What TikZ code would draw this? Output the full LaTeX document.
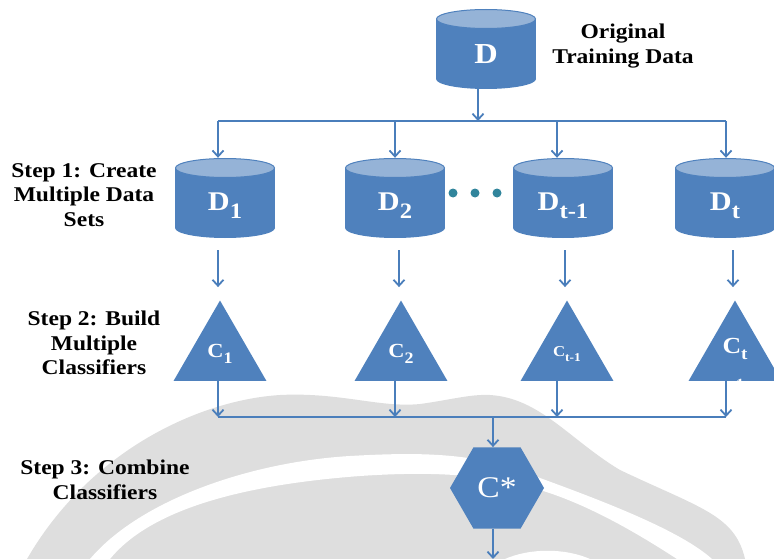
\documentclass[tikz,border=0pt]{standalone}
\usepackage{fontspec}
\setmainfont{Liberation Serif}[FakeStretch=1.12]
\usetikzlibrary{arrows.meta,shapes.geometric}

\definecolor{boxblue}{HTML}{4F81BD}
\definecolor{topblue}{HTML}{95B3D7}
\definecolor{lineblue}{HTML}{4A7EBB}
\definecolor{dotteal}{HTML}{31859C}
\definecolor{markgray}{HTML}{DEDEDE}

\newcommand{\lowsub}[2][22]{{\fontsize{#1}{#1}\selectfont\raisebox{-0.35em}{#2}}}

\tikzset{
  datastore/.style={minimum width=100pt, minimum height=80pt, inner sep=0pt, fill=white,
    text=white, font=\fontsize{27}{27}\selectfont\bfseries, text height=26pt, text depth=0pt,
    path picture={
      \fill[boxblue] ([yshift=-10pt]path picture bounding box.north west)
        rectangle ([yshift=10pt]path picture bounding box.south east);
      \fill[boxblue] ([yshift=10pt]path picture bounding box.south) ellipse [x radius=50pt, y radius=10pt];
      \filldraw[fill=topblue, draw=boxblue, line width=1pt]
        ([yshift=-10pt]path picture bounding box.north) ellipse [x radius=49.5pt, y radius=9.5pt];
    }},
  clsf/.style={regular polygon, regular polygon sides=3, minimum size=107pt, inner sep=0pt,
    fill=boxblue, text=white, font=\fontsize{20}{20}\selectfont\bfseries},
  combiner/.style={regular polygon, regular polygon sides=6, minimum size=94pt, inner sep=0pt,
    fill=boxblue, text=white, font=\fontsize{30}{30}\selectfont},
  steplabel/.style={align=center, inner sep=0pt, font=\fontsize{21}{24.5}\selectfont\bfseries},
  bus/.style={draw=lineblue, line width=1.8pt},
  arr/.style={bus, -{Straight Barb[length=6pt, width=11pt]}}
}

\begin{document}
\begin{tikzpicture}[x=1pt, y=-1pt]
  \useasboundingbox (0,0) rectangle (774,559);
  % watermark
  \fill[markgray] (27,559) .. controls (90,450) and (200,400) .. (280,395)
    .. controls (340,392) and (380,408) .. (420,404)
    .. controls (450,400) and (470,394) .. (490,395)
    .. controls (540,398) and (570,440) .. (620,470)
    .. controls (700,508) and (735,515) .. (745,559) -- cycle;
  \fill[white] (90,559) .. controls (140,500) and (250,462) .. (350,456)
    .. controls (420,452) and (480,452) .. (540,478)
    .. controls (600,500) and (680,530) .. (712,559)
    -- (677,559) .. controls (640,535) and (590,505) .. (540,490)
    .. controls (480,472) and (420,472) .. (360,476)
    .. controls (240,485) and (150,510) .. (110,559) -- cycle;
  \fill[white] (505,559) .. controls (530,548) and (565,548) .. (590,559) -- cycle;

  % original data
  \node[datastore, font=\fontsize{29}{29}\selectfont\bfseries, text height=30pt] (D) at (486,49) {D};
  \node[steplabel] (orig) at (623,46) {Original\\Training Data};

  % step labels
  \node[steplabel] (step1) at (84,195) {Step 1: Create\\Multiple Data\\Sets};
  \node[steplabel] (step2) at (94,343) {Step 2: Build\\Multiple\\Classifiers};
  \node[steplabel] (step3) at (105,480) {Step 3: Combine\\Classifiers};

  % data sets
  \node[datastore] (D1) at (225,198) {D\lowsub{1}};
  \node[datastore] (D2) at (395,198) {D\lowsub{2}};
  \node[datastore] (D3) at (563,198) {D\lowsub{t-1}};
  \node[datastore] (D4) at (725,198) {D\lowsub{t}};
  \foreach \x in {453,475,497}
    \fill[dotteal] (\x,193) circle[radius=4.5pt];

  % classifiers
  \node[clsf] (C1) at (220,354) {\raisebox{4pt}{C\lowsub[16]{1}}};
  \node[clsf] (C2) at (401,354) {\raisebox{4pt}{C\lowsub[16]{2}}};
  \node[clsf, font=\fontsize{15}{15}\selectfont\bfseries] (C3) at (567,354) {\raisebox{-5pt}{C\lowsub[12]{t-1}}};
  \node[clsf, font=\fontsize{23}{23}\selectfont\bfseries] (C4) at (735,354) {\raisebox{16pt}{C\lowsub[17]{t}}};
  \node[text=white, inner sep=0pt, font=\fontsize{14}{14}\selectfont\bfseries] (C4tail) at (740,384) {1};

  % combined classifier
  \node[combiner] (Cstar) at (497,488) {C*};

  % split
  \coordinate (split) at (478,121);
  \draw[arr] (split |- D.south) -- (split);
  \foreach \n/\x in {1/218, 2/395, 3/557, 4/726}
    {
      \coordinate (t\n) at (\x,121);
      \coordinate (b\n) at (\x,417);
    }
  \draw[bus] (t1) -- (t4);
  \foreach \n in {1,...,4}
    {
      \draw[arr] (t\n) -- (t\n |- D\n.north);
      \draw[arr, shorten <=12pt, shorten >=13pt] ([xshift=-2pt]C\n.north |- D\n.south) -- ([xshift=-2pt]C\n.north);
      \draw[arr] (b\n |- C\n.south) -- (b\n);
    }
  % merge
  \draw[bus] (b1) -- (b4);
  \coordinate (merge) at (493,417);
  \coordinate (out) at (493,559);
  \draw[arr] (merge) -- (merge |- Cstar.north);
  \draw[arr] (out |- Cstar.south) -- (out);
\end{tikzpicture}
\end{document}
